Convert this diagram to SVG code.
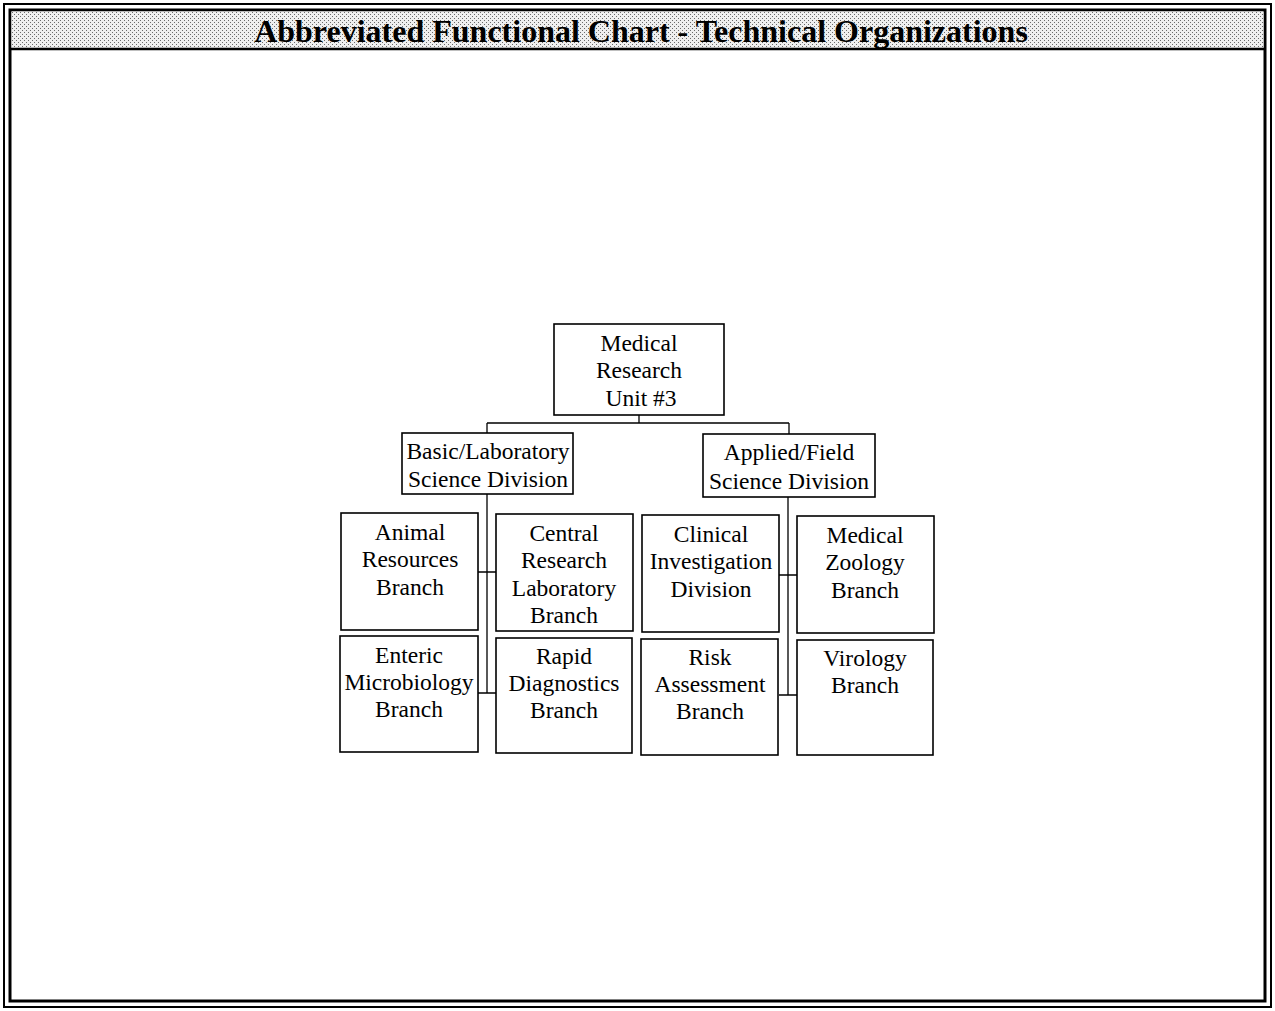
<svg xmlns="http://www.w3.org/2000/svg" width="1275" height="1011" viewBox="0 0 1275 1011">
  <defs>
    <pattern id="stipple" width="4" height="4" patternUnits="userSpaceOnUse">
      <rect width="4" height="4" fill="#efefef"/>
      <rect x="0" y="0" width="1" height="1" fill="#6a6a6a"/>
      <rect x="2" y="2" width="1" height="1" fill="#6a6a6a"/>
    </pattern>
  </defs>
  <style>
    .box { fill: #ffffff; stroke: #000000; stroke-width: 1.6; }
    .lbl { font-family: "Liberation Serif", "Times New Roman", serif; font-size: 23.5px; fill: #000000; text-anchor: middle; }
    .title { font-family: "Liberation Serif", "Times New Roman", serif; font-size: 32px; font-weight: bold; fill: #000000; text-anchor: middle; }
    .wire { fill: none; stroke: #000000; stroke-width: 1.3; }
  </style>

  <rect width="1275" height="1011" fill="#ffffff"/>

  <!-- page frame: double rule with a stippled title band -->
  <g id="frame">
    <rect x="4" y="4" width="1267" height="1003" fill="none" stroke="#000" stroke-width="2"/>
    <rect x="10" y="10" width="1255" height="991" fill="none" stroke="#000" stroke-width="3"/>
    <rect x="11.5" y="11.5" width="1252" height="37" fill="url(#stipple)"/>
    <line x1="10" y1="49" x2="1265" y2="49" stroke="#000" stroke-width="2.5"/>
    <text class="title" x="641" y="42">Abbreviated Functional Chart - Technical Organizations</text>
  </g>

  <!-- connectors -->
  <g id="connectors">
    <path class="wire" d="M639 415 V423 M487 423 H789 M487 423 V433 M789 423 V434"/>
    <path class="wire" d="M487 494 V693 M478 572 H496 M478 693 H496"/>
    <path class="wire" d="M788 497 V695 M779 575 H797 M779 695 H797"/>
  </g>

  <g id="mru">
    <rect class="box" x="554" y="324" width="170" height="91"/>
    <text class="lbl" x="639" y="351">Medical</text>
    <text class="lbl" x="639" y="378">Research</text>
    <text class="lbl" x="641" y="406">Unit #3</text>
  </g>

  <g id="basic-lab-division">
    <rect class="box" x="402" y="433" width="171" height="61"/>
    <text class="lbl" x="488" y="459">Basic/Laboratory</text>
    <text class="lbl" x="488" y="487">Science Division</text>
  </g>

  <g id="applied-field-division">
    <rect class="box" x="703" y="434" width="172" height="63"/>
    <text class="lbl" x="789" y="460">Applied/Field</text>
    <text class="lbl" x="789" y="489">Science Division</text>
  </g>

  <g id="animal-resources">
    <rect class="box" x="341" y="513" width="137" height="117"/>
    <text class="lbl" x="410" y="540">Animal</text>
    <text class="lbl" x="410" y="567">Resources</text>
    <text class="lbl" x="410" y="595">Branch</text>
  </g>

  <g id="central-research-lab">
    <rect class="box" x="496" y="514" width="137" height="117"/>
    <text class="lbl" x="564" y="541">Central</text>
    <text class="lbl" x="564" y="568">Research</text>
    <text class="lbl" x="564" y="596">Laboratory</text>
    <text class="lbl" x="564" y="623">Branch</text>
  </g>

  <g id="enteric-microbiology">
    <rect class="box" x="340" y="636" width="138" height="116"/>
    <text class="lbl" x="409" y="663">Enteric</text>
    <text class="lbl" x="409" y="690">Microbiology</text>
    <text class="lbl" x="409" y="717">Branch</text>
  </g>

  <g id="rapid-diagnostics">
    <rect class="box" x="496" y="638" width="136" height="115"/>
    <text class="lbl" x="564" y="664">Rapid</text>
    <text class="lbl" x="564" y="691">Diagnostics</text>
    <text class="lbl" x="564" y="718">Branch</text>
  </g>

  <g id="clinical-investigation">
    <rect class="box" x="642" y="515" width="137" height="117"/>
    <text class="lbl" x="711" y="542">Clinical</text>
    <text class="lbl" x="711" y="569">Investigation</text>
    <text class="lbl" x="711" y="597">Division</text>
  </g>

  <g id="medical-zoology">
    <rect class="box" x="797" y="516" width="137" height="117"/>
    <text class="lbl" x="865" y="543">Medical</text>
    <text class="lbl" x="865" y="570">Zoology</text>
    <text class="lbl" x="865" y="598">Branch</text>
  </g>

  <g id="risk-assessment">
    <rect class="box" x="641" y="639" width="137" height="116"/>
    <text class="lbl" x="710" y="665">Risk</text>
    <text class="lbl" x="710" y="692">Assessment</text>
    <text class="lbl" x="710" y="719">Branch</text>
  </g>

  <g id="virology">
    <rect class="box" x="797" y="640" width="136" height="115"/>
    <text class="lbl" x="865" y="666">Virology</text>
    <text class="lbl" x="865" y="693">Branch</text>
  </g>
</svg>
